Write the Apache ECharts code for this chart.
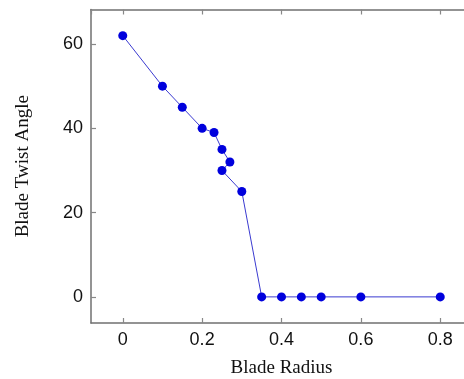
<!DOCTYPE html>
<html>
<head>
<meta charset="utf-8">
<style>
  html, body { margin: 0; padding: 0; background: #fff; }
  #chart { width: 464px; height: 379px; }
</style>
<script src="https://cdn.jsdelivr.net/npm/echarts@6/dist/echarts.min.js"></script>
</head>
<body>
<div id="chart"></div>
<script>
// blade radius vs twist angle
const bladeRadius = [0, 0.1, 0.15, 0.2, 0.23, 0.25, 0.27, 0.25, 0.3, 0.35, 0.4, 0.45, 0.5, 0.6, 0.8];
const twistAngle = [62, 50, 45, 40, 39, 35, 32, 30, 25, 0, 0, 0, 0, 0, 0];
const xRange = [-0.08, 0.88];
const yRange = [-6.2, 68.2];

const frameColor = '#707070';
const tickFont = { fontFamily: 'Liberation Sans', fontSize: 18, color: '#111' };
const nameFont = { fontFamily: 'Liberation Serif', fontSize: 19, color: '#111' };

const chart = echarts.init(document.getElementById('chart'));

const axisLine = { show: true, onZero: false, lineStyle: { color: frameColor, width: 1.5 } };
const tick = { show: true, inside: true, length: 5, lineStyle: { color: '#888', width: 1.2 } };

// ticks come from the default nice interval (0.2 / 20), the range ends are not labelled
function axis(pos, range, splits, withLabels) {
    return {
        type: 'value', position: pos,
        min: range[0], max: range[1],
        splitNumber: splits,
        splitLine: { show: false },
        axisLine: axisLine,
        axisTick: tick,
        axisLabel: withLabels
            ? { ...tickFont, margin: 8, showMinLabel: false, showMaxLabel: false,
                formatter: v => String(Math.round(v * 10) / 10) }
            : { show: false }
    };
}

chart.setOption({
    animation: false,
    grid: { left: 91, top: 9.5, width: 381, height: 313.5, outerBoundsMode: 'none' },
    xAxis: [
        Object.assign(axis('bottom', xRange, 5, true), {
            name: 'Blade Radius', nameLocation: 'middle', nameGap: 36, nameTextStyle: nameFont
        }),
        axis('top', xRange, 5, false)
    ],
    yAxis: [
        Object.assign(axis('left', yRange, 4, true), {
            name: 'Blade Twist Angle', nameLocation: 'middle', nameGap: 58, nameRotate: 90, nameTextStyle: nameFont
        }),
        axis('right', yRange, 4, false)
    ],
    series: [{
        type: 'line',
        data: bladeRadius.map((r, i) => [r, twistAngle[i]]),
        symbol: 'circle',
        symbolSize: 9,
        showAllSymbol: true,
        lineStyle: { color: '#3a3ad0', width: 1 },
        itemStyle: { color: '#0000dd' }
    }]
});
</script>
</body>
</html>
